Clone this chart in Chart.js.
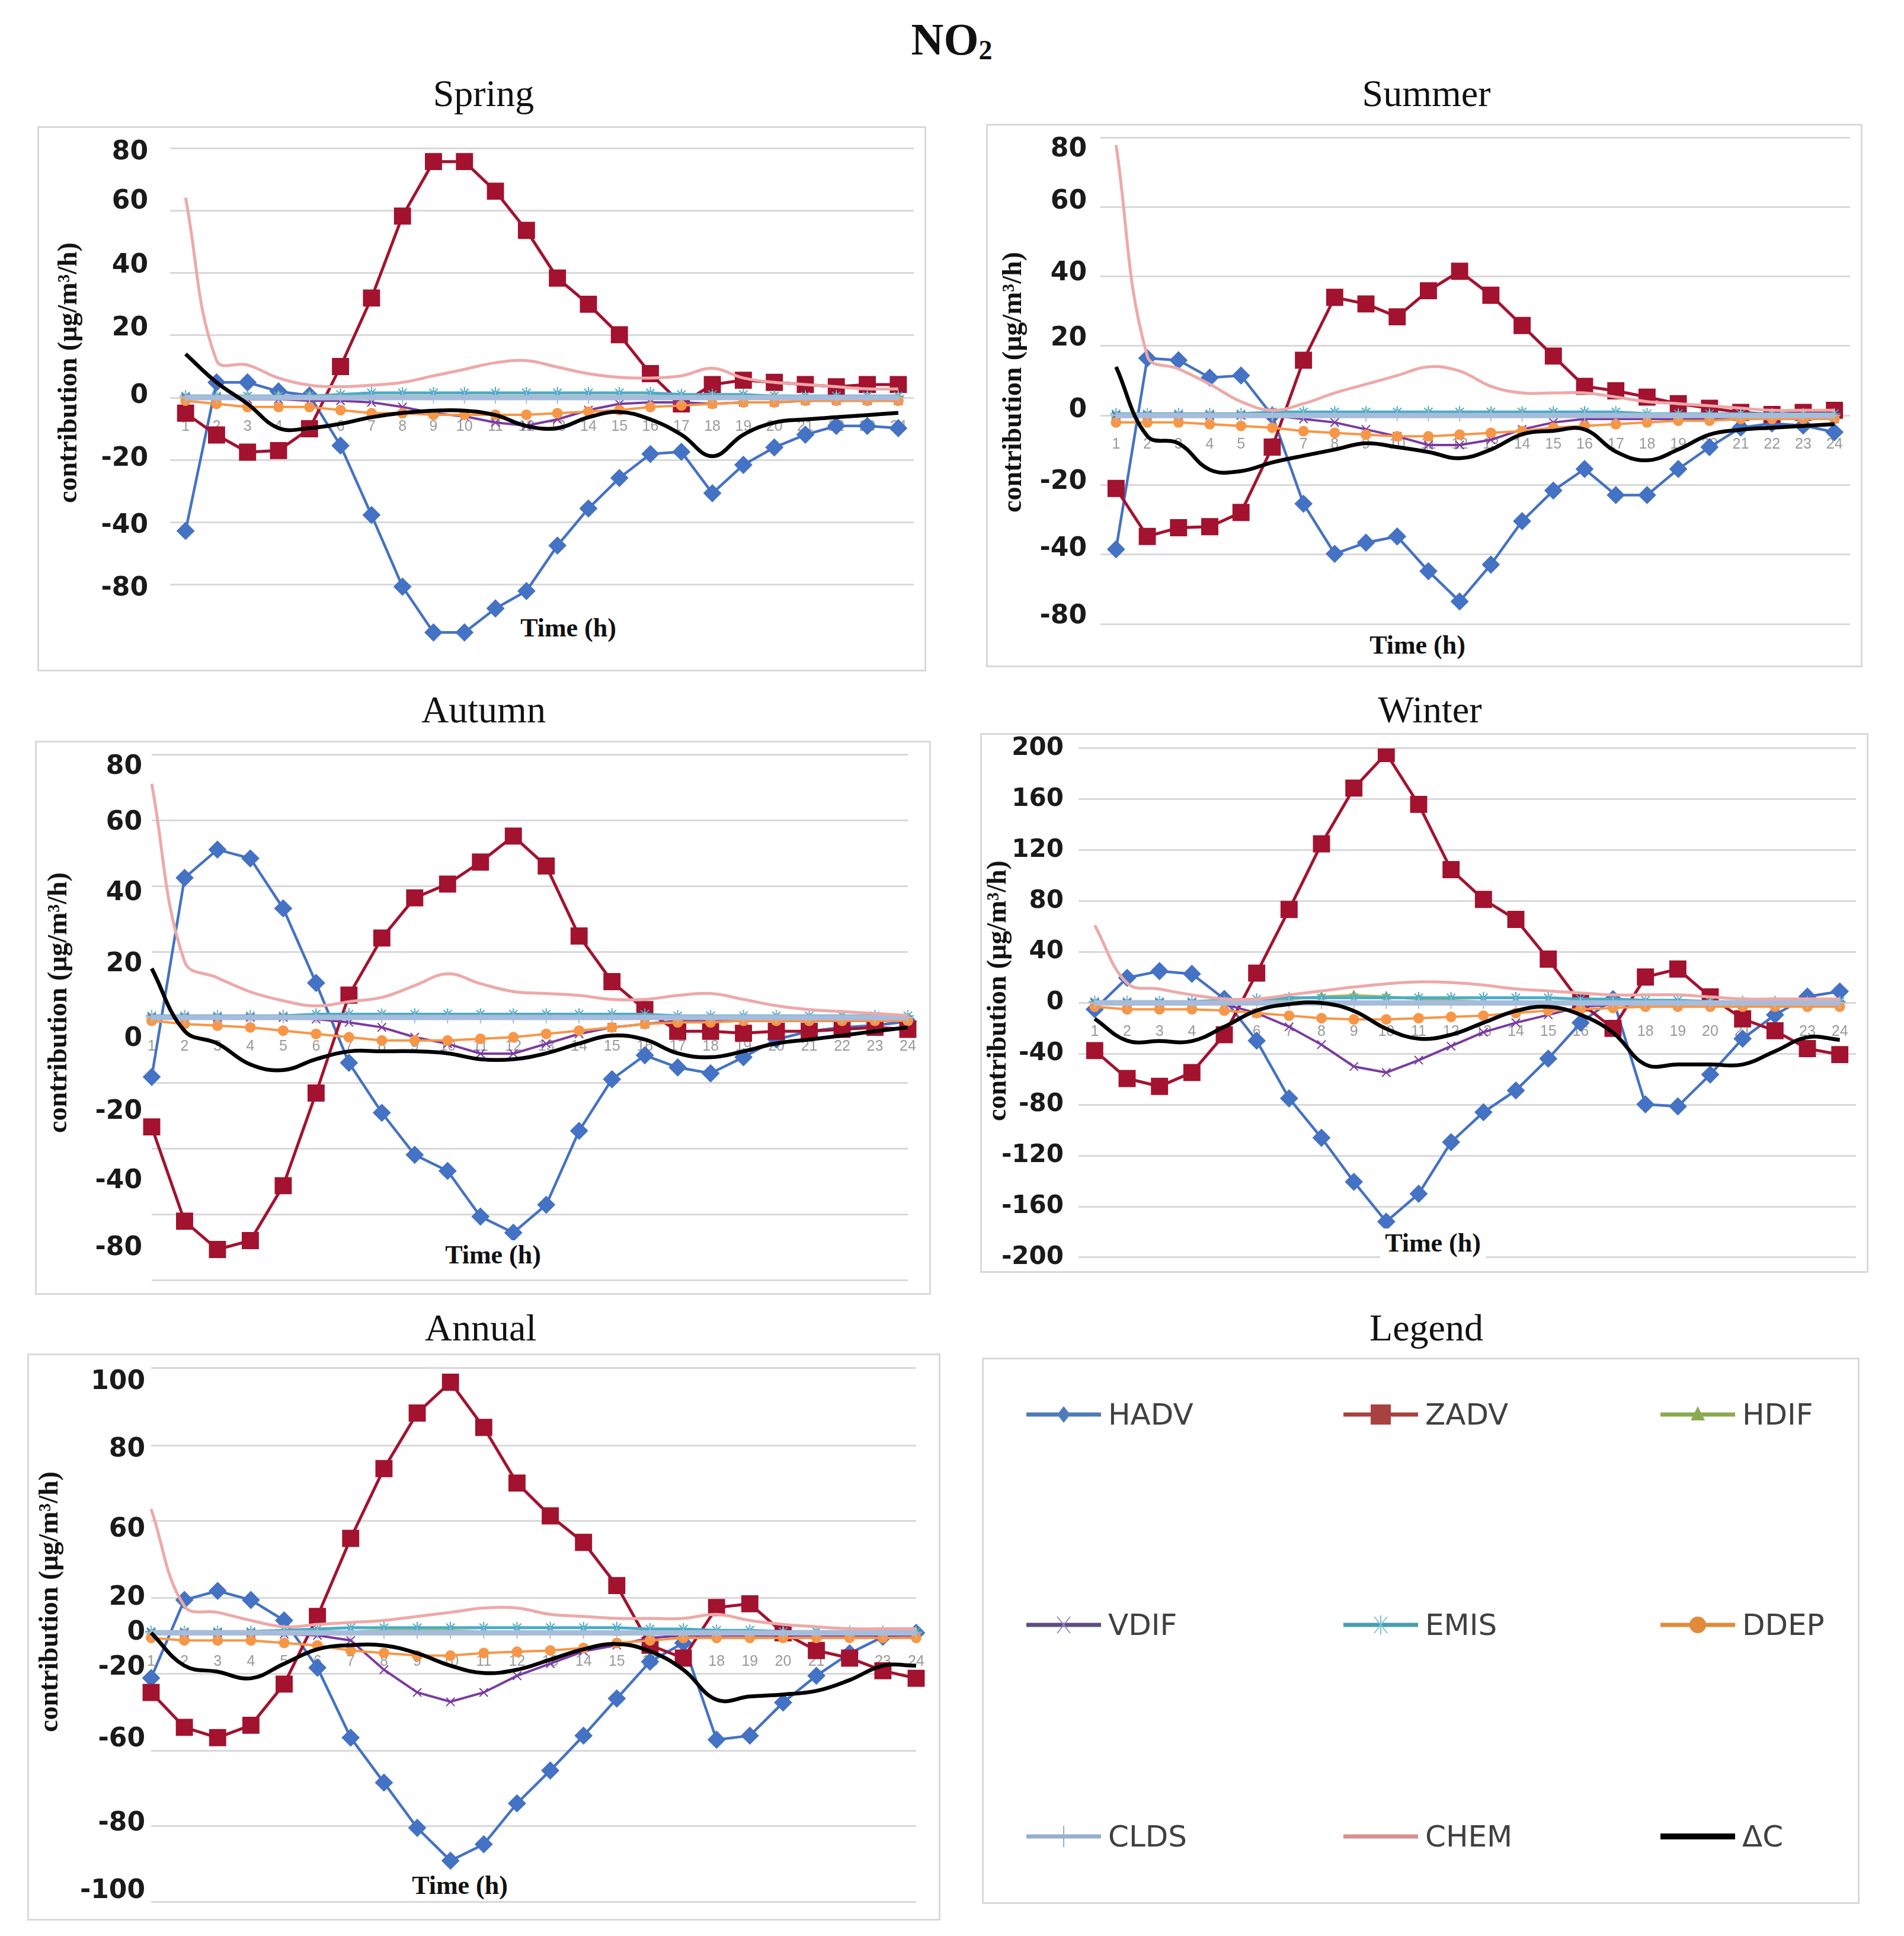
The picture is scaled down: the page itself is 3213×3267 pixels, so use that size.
<!DOCTYPE html>
<html>
<head>
<meta charset="utf-8">
<script src="https://cdn.jsdelivr.net/npm/chart.js@4.4.1/dist/chart.umd.min.js"></script>
<style>
  html, body { margin: 0; padding: 0; background: #fff; }
  #page { position: relative; width: 3213px; height: 3267px; overflow: hidden; background: #fff; }
  .box { position: absolute; border: 3px solid #d9d9d9; box-sizing: border-box; }
  canvas { position: absolute; }
  .ttl { position: absolute; font-family: 'Liberation Serif', serif; font-size: 64px; line-height: 64px; white-space: nowrap; transform: translateX(-50%); color: #111; }
  .main { font-weight: bold; font-size: 76px; line-height: 76px; }
  .main sub { font-size: 46px; vertical-align: -8px; }
  .ytl { position: absolute; font-family: 'Liberation Serif', serif; font-weight: bold; font-size: 46px; line-height: 46px; white-space: nowrap; color: #111; transform: translate(-50%, -50%) rotate(-90deg); }
  .xtl { position: absolute; font-family: 'Liberation Serif', serif; font-weight: bold; font-size: 44px; line-height: 50px; white-space: nowrap; color: #111; background: #fff; padding: 0 8px; transform: translate(-50%, -50%); }
  .leg { position: absolute; display: flex; align-items: center; height: 60px; font-family: 'DejaVu Sans', sans-serif; font-size: 50px; color: #404040; }
  .leg span { margin-left: 12px; }
</style>
</head>
<body>
<div id="page"></div>
<script>
// hours on the x axis
const hours = ['1','2','3','4','5','6','7','8','9','10','11','12','13','14','15','16','17','18','19','20','21','22','23','24'];
const seriesNames = ['HADV', 'ZADV', 'HDIF', 'VDIF', 'EMIS', 'DDEP', 'CLDS', 'CHEM', '\u0394C'];

// Spring
const springHADV = [-42.8, 4.9, 4.9, 2.0, 0.7, -15.4, -37.7, -60.7, -75.4, -75.4, -67.7, -62.1, -47.5, -35.6, -25.8, -18.1, -17.4, -30.7, -21.6, -16.0, -11.9, -9.1, -9.1, -9.8];
const springZADV = [-5.0, -12.0, -17.5, -17.0, -10.0, 10.0, 32.0, 58.3, 75.8, 75.8, 66.3, 53.7, 38.4, 30.0, 20.2, 7.7, -2.0, 4.2, 5.6, 4.9, 4.2, 3.5, 4.2, 4.2];
const springHDIF = [0, 0, 0.5, 0.5, 0.5, 0.5, 0.5, 0.5, 0.5, 0.5, 0.5, 0.5, 0.5, 0.5, 0.5, 0.5, 0.5, 0.5, 0.5, 0.5, 0, 0, 0, 0];
const springVDIF = [0, 0, -0.5, -0.5, -1.0, -1.0, -1.5, -3.0, -5.0, -6.0, -8.0, -9.0, -7.0, -4.0, -2.0, -1.5, -1.5, -2.0, -1.5, -1.5, -1.0, -1.0, -1.0, -1.0];
const springEMIS = [0.5, 0.5, 0.5, 0.5, 0.5, 1.0, 1.5, 1.5, 1.5, 1.5, 1.5, 1.5, 1.5, 1.5, 1.5, 1.5, 1.0, 1.0, 1.0, 0.5, 0.5, 0.5, 0.5, 0.5];
const springDDEP = [-1.0, -2.0, -3.0, -3.0, -3.0, -4.0, -5.0, -5.0, -5.5, -5.5, -5.5, -5.5, -5.0, -4.5, -4.0, -3.0, -2.5, -2.0, -1.5, -1.5, -1.0, -1.0, -1.0, -1.0];
const springCLDS = [0, 0, 0, 0, 0, 0, 0, 0, 0, 0, 0, 0, 0, 0, 0, 0, 0, 0, 0, 0, 0, 0, 0, 0];
const springCHEM = [64.2, 11.9, 10.5, 6.3, 4.0, 3.5, 4.0, 4.9, 7.0, 9.1, 11.2, 11.9, 9.8, 7.7, 6.5, 6.3, 7.0, 9.4, 6.3, 4.9, 4.2, 3.5, 2.8, 2.8];
const springDC = [14.0, 4.9, -2.0, -9.8, -9.8, -8.4, -6.3, -4.9, -4.2, -4.2, -5.6, -9.1, -9.8, -6.3, -4.6, -7.0, -11.9, -18.8, -11.9, -8.0, -7.0, -6.3, -5.6, -4.9];

// Summer
const summerHADV = [-38.5, 16.5, 15.9, 10.9, 11.5, 0.0, -25.4, -39.8, -36.6, -34.8, -44.8, -53.5, -42.9, -30.4, -21.6, -15.4, -22.9, -22.9, -15.4, -9.1, -3.5, -2.3, -2.9, -4.8];
const summerZADV = [-21.0, -34.8, -32.3, -32.0, -27.9, -9.1, 15.9, 34.0, 32.1, 28.4, 35.9, 41.5, 34.6, 25.9, 17.1, 8.4, 7.1, 5.3, 3.4, 2.1, 0.9, 0.3, 0.9, 1.5];
const summerHDIF = [0, 0, 0, 0, 0, 0.5, 0.5, 0.5, 0.5, 0.5, 0.5, 0.5, 0.5, 0.5, 0.5, 0.5, 0, 0, 0, 0, 0, 0, 0, 0];
const summerVDIF = [0, 0, 0, 0, 0, 0, -1.0, -2.0, -4.0, -6.0, -8.5, -8.5, -7.0, -4.0, -2.0, -1.0, -1.0, -1.0, -1.0, -1.0, -1.0, -1.0, -1.0, -1.0];
const summerEMIS = [0.5, 0.5, 0.5, 0.5, 0.5, 1.0, 1.0, 1.0, 1.0, 1.0, 1.0, 1.0, 1.0, 1.0, 1.0, 1.0, 1.0, 0.5, 0.5, 0.5, 0.5, 0.5, 0.5, 0.5];
const summerDDEP = [-2.0, -2.0, -2.0, -2.5, -3.0, -3.5, -4.5, -5.0, -5.5, -6.0, -6.0, -5.5, -5.0, -4.5, -3.5, -3.0, -2.5, -2.0, -1.5, -1.5, -1.0, -1.0, -1.0, -1.0];
const summerCLDS = [0, 0, 0, 0, 0, 0, 0, 0, 0, 0, 0, 0, 0, 0, 0, 0, 0, 0, 0, 0, 0, 0, 0, 0];
const summerCHEM = [77.8, 17.1, 13.4, 9.0, 4.0, 1.5, 3.4, 6.5, 9.0, 11.5, 14.0, 12.8, 8.4, 6.5, 6.5, 6.5, 5.3, 4.0, 3.4, 2.8, 2.1, 1.5, 1.5, 1.5];
const summerDC = [14.0, -5.9, -8.0, -15.6, -16.0, -13.5, -11.6, -9.8, -8.0, -9.1, -10.5, -12.3, -9.8, -5.4, -4.4, -4.0, -10.4, -12.9, -9.8, -5.5, -4.1, -3.5, -3.0, -2.5];

// Autumn
const autumnHADV = [-18.1, 42.5, 51.1, 48.4, 33.2, 10.5, -13.8, -29.0, -41.8, -46.7, -60.6, -65.5, -57.0, -34.5, -18.8, -11.5, -15.2, -17.0, -12.1, -6.7, -4.2, -3.0, -2.4, -1.2];
const autumnZADV = [-33.3, -62.0, -70.6, -67.9, -51.2, -23.0, 6.8, 24.2, 36.4, 40.6, 47.3, 55.2, 46.1, 24.8, 10.9, 2.4, -4.2, -4.2, -4.8, -4.2, -4.2, -3.6, -3.0, -3.6];
const autumnHDIF = [0, 0, 0, 0, 0, 0.5, 0.5, 0.5, 0.5, 0.5, 0.5, 0.5, 0.5, 0.5, 0.5, 0, 0, 0, 0, 0, 0, 0, 0, 0];
const autumnVDIF = [0, 0, 0, 0, 0, -0.5, -1.5, -3.0, -6.0, -8.0, -11.0, -11.0, -8.0, -5.0, -3.0, -2.0, -1.0, -1.0, -1.0, -1.0, -1.0, -1.0, -1.0, -1.0];
const autumnEMIS = [0.5, 0.5, 0.5, 0.5, 0.5, 1.0, 1.0, 1.0, 1.0, 1.0, 1.0, 1.0, 1.0, 1.0, 1.0, 1.0, 0.5, 0.5, 0.5, 0.5, 0.5, 0.5, 0.5, 0.5];
const autumnDDEP = [-1.0, -2.0, -2.5, -3.0, -4.0, -5.0, -6.0, -7.0, -7.0, -7.0, -6.5, -6.0, -5.0, -4.0, -3.0, -2.0, -1.5, -1.5, -1.0, -1.0, -1.0, -1.0, -1.0, -1.0];
const autumnCLDS = [0, 0, 0, 0, 0, 0, 0, 0, 0, 0, 0, 0, 0, 0, 0, 0, 0, 0, 0, 0, 0, 0, 0, 0];
const autumnCHEM = [71.1, 17.0, 12.1, 7.8, 5.1, 3.5, 4.8, 6.1, 9.7, 13.3, 10.3, 7.9, 7.3, 6.7, 5.5, 5.5, 6.7, 7.3, 5.5, 3.6, 2.4, 1.8, 1.2, 0.6];
const autumnDC = [14.9, -4.1, -7.9, -14.3, -16.0, -12.7, -10.3, -10.3, -10.3, -10.9, -12.7, -12.7, -10.9, -7.9, -5.5, -6.7, -10.9, -12.1, -10.3, -7.9, -6.7, -5.5, -4.2, -3.0];

// Winter
const winterHADV = [-5.0, 19.7, 25.0, 22.8, 3.1, -29.7, -75.0, -106.0, -140.6, -171.9, -150.0, -109.4, -85.9, -68.8, -43.8, -15.6, 3.0, -79.7, -81.3, -56.3, -28.1, -9.4, 5.0, 9.0];
const winterZADV = [-37.5, -59.4, -65.6, -54.7, -25.0, 23.4, 73.4, 125.0, 168.8, 196.0, 156.0, 104.7, 81.3, 65.6, 34.4, 0.0, -20.0, 20.3, 26.6, 4.7, -12.5, -21.9, -35.9, -40.6];
const winterHDIF = [0, 0, 0, 0, 0, 1, 3, 5, 6, 5, 3, 2, 1, 1, 0, 0, 0, 0, 0, 0, 0, 0, 0, 0];
const winterVDIF = [0, 0, 0, 0, -1.0, -8.0, -18.8, -32.8, -50.0, -54.7, -45.0, -34.0, -23.0, -15.6, -9.4, -3.0, -1.5, -1.5, -1.5, -1.0, -1.0, -1.0, -1.0, -1.0];
const winterEMIS = [1, 1, 1, 1, 2, 3, 4, 4, 4, 4, 4, 4, 4, 4, 4, 3, 3, 2, 2, 1, 1, 1, 1, 1];
const winterDDEP = [-3, -5, -5, -5, -6, -8, -10, -12, -13, -13, -12, -11, -10, -8, -6, -5, -4, -3, -3, -3, -3, -3, -3, -3];
const winterCLDS = [0, 0, 0, 0, 0, 0, 0, 0, 0, 0, 0, 0, 0, 0, 0, 0, 0, 0, 0, 0, 0, 0, 0, 0];
const winterCHEM = [61.0, 15.6, 10.9, 6.3, 3.1, 3.1, 6.3, 9.4, 12.5, 15.0, 16.5, 16.0, 14.0, 11.0, 9.4, 7.8, 6.3, 6.3, 6.3, 4.7, 3.1, 3.1, 3.1, 3.1];
const winterDC = [-12.5, -29.7, -30.0, -30.0, -18.8, -6.0, -1.0, 0.0, -6.3, -20.3, -28.1, -25.0, -15.6, -6.3, -3.1, -9.4, -23.4, -48.4, -48.4, -48.4, -48.4, -38.0, -27.0, -29.0];

// Annual
const annualHADV = [-17.9, 13.0, 16.6, 13.0, 4.9, -13.8, -41.5, -59.3, -77.2, -90.2, -83.7, -67.5, -54.5, -40.7, -26.0, -11.4, -4.0, -42.3, -40.7, -27.6, -17.0, -8.1, -1.6, 0.0];
const annualZADV = [-23.6, -37.4, -41.5, -36.6, -20.3, 6.5, 37.4, 65.0, 87.0, 99.2, 81.3, 59.3, 46.3, 35.8, 18.7, -4.9, -10.0, 10.0, 11.5, 0.0, -7.0, -10.0, -15.0, -18.0];
const annualHDIF = [0, 0, 0, 0, 0, 0.5, 0.5, 1.0, 1.0, 1.0, 0.5, 0.5, 0.5, 0.5, 0, 0, 0, 0, 0, 0, 0, 0, 0, 0];
const annualVDIF = [0, 0, 0, 0, -0.5, -1.0, -3.0, -14.6, -23.6, -27.3, -23.6, -17.0, -12.2, -7.3, -4.9, -2.0, -1.0, -1.0, -1.0, -1.0, -1.0, -1.0, -1.0, -1.0];
const annualEMIS = [0.5, 0.5, 0.5, 0.5, 1.0, 1.5, 2.0, 2.0, 2.0, 2.0, 2.0, 2.0, 2.0, 2.0, 2.0, 1.5, 1.5, 1.0, 1.0, 0.5, 0.5, 0.5, 0.5, 0.5];
const annualDDEP = [-2.0, -3.0, -3.0, -3.0, -4.0, -5.0, -7.0, -8.0, -9.0, -9.0, -8.0, -7.5, -7.0, -6.0, -4.0, -3.0, -2.0, -2.0, -2.0, -2.0, -2.0, -2.0, -2.0, -2.0];
const annualCLDS = [0, 0, 0, 0, 0, 0, 0, 0, 0, 0, 0, 0, 0, 0, 0, 0, 0, 0, 0, 0, 0, 0, 0, 0];
const annualCHEM = [49.0, 10.6, 8.1, 4.9, 2.4, 3.3, 4.1, 4.9, 6.5, 8.1, 9.8, 9.8, 7.3, 6.5, 5.7, 5.7, 5.7, 7.3, 4.9, 3.3, 2.4, 1.6, 1.6, 1.6];
const annualDC = [0.0, -13.0, -15.4, -18.0, -12.2, -6.5, -4.9, -5.0, -8.1, -13.0, -15.9, -14.6, -10.6, -6.5, -4.4, -7.3, -14.6, -26.5, -25.2, -24.4, -23.0, -18.7, -13.0, -13.0];

// y tick labels as printed on each panel (the pasted labels do not always sit on the grid)
const springTickText = ['80', '60', '40', '20', '0', '-20', '-40', '-80'];
const springTickAt = [78.6, 62.8, 42.3, 22.1, 0.4, -19.8, -41.2, -61.4];
const summerTickText = ['80', '60', '40', '20', '0', '-20', '-40', '-80'];
const summerTickAt = [76.5, 61.5, 40.9, 22.1, 1.5, -19.1, -38.5, -57.9];
const autumnTickText = ['80', '60', '40', '20', '0', '-20', '-40', '-80'];
const autumnTickAt = [76.1, 59.3, 37.7, 16.1, -6.6, -28.8, -49.8, -70.3];
const winterTickText = ['200', '160', '120', '80', '40', '0', '-40', '-80', '-120', '-160', '-200'];
const winterTickAt = [200, 160, 120, 80, 40, 0, -40, -80, -120, -160, -200];
const annualTickText = ['100', '80', '60', '20', '0', '-20', '-60', '-80', '-100'];
const annualTickAt = [99.2, 72.4, 40.7, 13.8, 0, -13.8, -42.3, -75.6, -102.4];

// styling per series
const lineColors = ['#4472C4', '#A3122F', '#9BBB59', '#7A3BA0', '#4BACC6', '#F79646', '#A7BCDB', '#EDA9A9', '#000000'];
const legendColors = ['#4F7CB8', '#A84240', '#8AAA50', '#5E4D80', '#4A9DB0', '#E08A3A', '#98AECF', '#D4918F', '#000000'];
const lineWidths = [4.5, 5, 4, 4, 5, 4, 9, 5, 6.5];
const markerStyles = ['rectRot', 'rect', 'triangle', 'crossRot', 'star', 'circle', 'cross', false, false];
const markerSizes = [14, 19, 8, 10, 10, 8, 10, 0, 0];
const smoothLines = [false, false, false, false, false, false, false, true, true];

function buildSets(vals) {
  return seriesNames.map((name, i) => ({
    label: name,
    data: vals[i],
    borderColor: lineColors[i],
    backgroundColor: lineColors[i],
    borderWidth: lineWidths[i],
    pointStyle: markerStyles[i],
    pointRadius: markerSizes[i],
    pointBorderColor: lineColors[i],
    pointBackgroundColor: lineColors[i],
    pointBorderWidth: 2,
    tension: smoothLines[i] ? 0.4 : 0,
    fill: false,
    order: 9 - i
  }));
}

const panels = [
  { title: 'Spring', vals: [springHADV, springZADV, springHDIF, springVDIF, springEMIS, springDDEP, springCLDS, springCHEM, springDC],
    box: [63, 213, 1500, 920], area: [287, 1554, 250.6, 1091.4], min: -80, max: 80, offset: true,
    grid: [80, 60, 40, 20, 0, -20, -40, -60], tickAt: springTickAt, tickText: springTickText, tickPad: 37, tickSize: 44,
    titleAt: [816, 180], yTitleAt: [114, 629], xTitleAt: [959, 1060] },
  { title: 'Summer', vals: [summerHADV, summerZADV, summerHDIF, summerVDIF, summerEMIS, summerDDEP, summerCLDS, summerCHEM, summerDC],
    box: [1664, 209, 1479, 917], area: [1857, 3130, 232, 1053], min: -60, max: 80, offset: true,
    grid: [80, 60, 40, 20, 0, -20, -40, -60], tickAt: summerTickAt, tickText: summerTickText, tickPad: 23, tickSize: 44,
    titleAt: [2407, 180], yTitleAt: [1708, 645], xTitleAt: [2392, 1089] },
  { title: 'Autumn', vals: [autumnHADV, autumnZADV, autumnHDIF, autumnVDIF, autumnEMIS, autumnDDEP, autumnCLDS, autumnCHEM, autumnDC],
    box: [59, 1250, 1512, 935], area: [256, 1532, 1273.4, 2160.6], min: -80, max: 80, offset: false,
    grid: [80, 60, 40, 20, 0, -20, -40, -60, -80], tickAt: autumnTickAt, tickText: autumnTickText, tickPad: 16, tickSize: 44,
    titleAt: [816, 1220], yTitleAt: [97, 1692], xTitleAt: [832, 2118] },
  { title: 'Winter', vals: [winterHADV, winterZADV, winterHDIF, winterVDIF, winterEMIS, winterDDEP, winterCLDS, winterCHEM, winterDC],
    box: [1654, 1237, 1499, 911], area: [1820, 3136, 1262.9, 2121.9], min: -200, max: 200, offset: true,
    grid: [200, 160, 120, 80, 40, 0, -40, -80, -120, -160, -200], tickAt: winterTickAt, tickText: winterTickText, tickPad: 25, tickSize: 42,
    titleAt: [2413, 1220], yTitleAt: [1682, 1672], xTitleAt: [2418, 2098] },
  { title: 'Annual', vals: [annualHADV, annualZADV, annualHDIF, annualVDIF, annualEMIS, annualDDEP, annualCLDS, annualCHEM, annualDC],
    box: [46, 2284, 1541, 957], area: [255, 1546, 2308.2, 3209.4], min: -106.5, max: 104.9, offset: false,
    grid: [104.9, 74.0, 44.3, 13.8, -16.3, -46.8, -76.4, -106.5], tickAt: annualTickAt, tickText: annualTickText, tickPad: 10, tickSize: 44,
    titleAt: [811, 2263], yTitleAt: [82, 2703], xTitleAt: [776, 3182] }
];

const page = document.getElementById('page');

function addText(cls, html, x, y) {
  const d = document.createElement('div');
  d.className = cls;
  d.innerHTML = html;
  d.style.left = x + 'px';
  d.style.top = y + 'px';
  page.appendChild(d);
  return d;
}

// axes must not push the plot area around: the layout padding already fixes it
function noPad(s) {
  s.paddingTop = 0; s.paddingBottom = 0; s.paddingLeft = 0; s.paddingRight = 0;
}

// main heading
addText('ttl main', 'NO<sub>2</sub>', 1606, 92 - 0.84 * 76);

panels.forEach(p => {
  const [bx, by, bw, bh] = p.box;
  const [aL, aR, aT, aB] = p.area;

  const frame = document.createElement('div');
  frame.className = 'box';
  Object.assign(frame.style, { left: bx + 'px', top: by + 'px', width: bw + 'px', height: bh + 'px' });
  page.appendChild(frame);

  const cv = document.createElement('canvas');
  cv.width = bw; cv.height = bh;
  Object.assign(cv.style, { left: bx + 'px', top: by + 'px', width: bw + 'px', height: bh + 'px' });
  page.appendChild(cv);

  new Chart(cv, {
    type: 'line',
    data: { labels: hours, datasets: buildSets(p.vals) },
    options: {
      responsive: false,
      animation: false,
      devicePixelRatio: 1,
      events: [],
      layout: { padding: { left: 0, right: bx + bw - aR, top: aT - by, bottom: by + bh - aB } },
      plugins: { legend: { display: false }, tooltip: { enabled: false }, title: { display: false } },
      scales: {
        x: {
          type: 'category', offset: p.offset, position: { y: 0 },
          grid: { display: false, drawTicks: false }, border: { display: false },
          ticks: { autoSkip: false, maxRotation: 0, padding: 34, color: '#9a9a9a', font: { family: 'Liberation Sans', size: 25 } },
          afterFit: s => { noPad(s); }
        },
        y: {
          type: 'linear', position: 'left', min: p.min, max: p.max,
          grid: { color: '#d9d9d9', lineWidth: 3, drawTicks: false }, border: { display: false },
          ticks: { display: false },
          afterBuildTicks: s => { s.ticks = p.grid.map(v => ({ value: v })); },
          afterFit: s => { s.width = 0; noPad(s); }
        },
        yl: {
          type: 'linear', position: 'left', min: p.min, max: p.max,
          grid: { display: false, drawTicks: false }, border: { display: false },
          ticks: { autoSkip: false, padding: p.tickPad, color: '#1a1a1a',
                   font: { family: 'DejaVu Sans', weight: 'bold', size: p.tickSize },
                   callback: (v, i) => p.tickText[i] },
          afterBuildTicks: s => { s.ticks = p.tickAt.map(v => ({ value: v })); },
          afterFit: s => { s.width = aL - bx; noPad(s); }
        }
      }
    }
  });

  addText('ttl', p.title, p.titleAt[0], p.titleAt[1] - 0.84 * 64);
  addText('ytl', 'contribution (\u03bcg/m\u00b3/h)', p.yTitleAt[0], p.yTitleAt[1]);
  addText('xtl', 'Time (h)', p.xTitleAt[0], p.xTitleAt[1]);
});

// legend panel
const legBox = document.createElement('div');
legBox.className = 'box';
Object.assign(legBox.style, { left: '1657px', top: '2291px', width: '1481px', height: '922px' });
page.appendChild(legBox);
addText('ttl', 'Legend', 2407, 2263 - 0.84 * 64);

function markerSvg(i, c) {
  const cx = 63, cy = 30;
  switch (markerStyles[i]) {
    case 'rectRot': return `<polygon points="${cx},${cy - 14} ${cx + 11},${cy} ${cx},${cy + 14} ${cx - 11},${cy}" fill="${c}"/>`;
    case 'rect': return `<rect x="${cx - 17}" y="${cy - 17}" width="34" height="34" fill="${c}"/>`;
    case 'triangle': return `<polygon points="${cx},${cy - 14} ${cx + 12},${cy + 10} ${cx - 12},${cy + 10}" fill="${c}"/>`;
    case 'crossRot': return `<path d="M${cx - 11},${cy - 14} L${cx + 11},${cy + 14} M${cx + 11},${cy - 14} L${cx - 11},${cy + 14}" stroke="#9a86c0" stroke-width="2"/>`;
    case 'star': return `<path d="M${cx - 11},${cy - 14} L${cx + 11},${cy + 14} M${cx + 11},${cy - 14} L${cx - 11},${cy + 14} M${cx},${cy - 16} L${cx},${cy + 16}" stroke="#7cc3d6" stroke-width="2"/>`;
    case 'circle': return `<circle cx="${cx}" cy="${cy}" r="14" fill="${c}"/>`;
    case 'cross': return `<path d="M${cx},${cy - 18} L${cx},${cy + 18}" stroke="${c}" stroke-width="2"/>`;
    default: return '';
  }
}

const legCols = [1732, 2267, 2802];
const legRows = [2387, 2741.5, 3098.5];
seriesNames.forEach((name, i) => {
  const c = legendColors[i];
  const sw = i === 8 ? 10 : 7;
  addText('leg',
    `<svg width="126" height="60" viewBox="0 0 126 60"><line x1="0" y1="30" x2="126" y2="30" stroke="${c}" stroke-width="${sw}"/>${markerSvg(i, c)}</svg><span>${name}</span>`,
    legCols[i % 3], legRows[Math.floor(i / 3)] - 30);
});
</script>
</body>
</html>
